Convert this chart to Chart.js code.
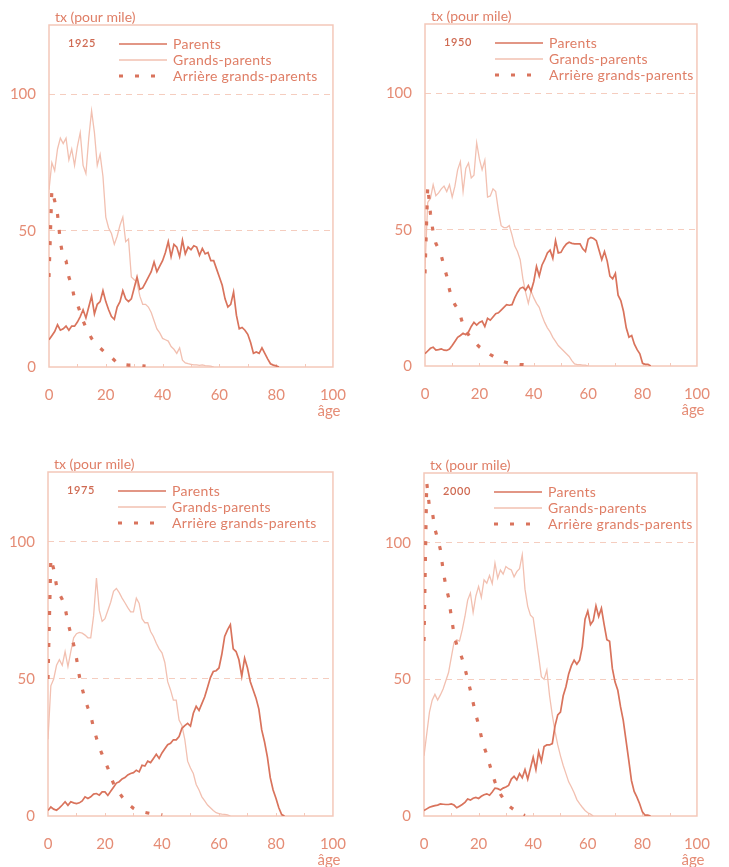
<!DOCTYPE html>
<html lang="fr">
<head>
<meta charset="utf-8">
<title>Taux par âge</title>
<script src="https://cdn.jsdelivr.net/npm/chart.js@4.4.1/dist/chart.umd.min.js"></script>
<style>
html, body { margin: 0; padding: 0; background: #ffffff; }
#wrap { position: relative; width: 729px; height: 867px; overflow: hidden; }
canvas { position: absolute; }
</style>
</head>
<body>
<div id="wrap">
  <canvas id="c1925" width="365" height="432" style="left:0px;top:0px"></canvas>
  <canvas id="c1950" width="364" height="432" style="left:365px;top:0px"></canvas>
  <canvas id="c1975" width="365" height="435" style="left:0px;top:432px"></canvas>
  <canvas id="c2000" width="364" height="435" style="left:365px;top:432px"></canvas>
</div>
<script>
// Rates per thousand, one value per completed year of age (index = age).
const seriesNames = ['Parents', 'Grands-parents', 'Arrière grands-parents'];
const years = ['1925', '1950', '1975', '2000'];
const yTitle = 'tx (pour mile)';
const xTitle = 'âge';

const parents1925 = [10, 11.5, 13, 15.5, 13.5, 14, 15, 13.5, 15, 15, 16.5, 18.5, 21, 18, 22, 26, 19.5, 23, 24, 28,
  24, 21, 18.5, 17.5, 22, 24, 28, 25, 24, 25, 29, 33, 28.5, 29, 31, 33, 35, 38.5, 35, 37,
  39, 42, 46, 40.5, 45, 44, 40.5, 46.5, 41.5, 44, 43, 44.5, 44, 41, 43.5, 41.5, 42, 39, 39, 36,
  33, 30, 25, 22, 23, 27.5, 19, 14, 14.5, 13.5, 12, 9, 5, 5.5, 5, 7, 5, 3, 1.2, 0.7, 0.4, 0];
const grand1925 = [65, 75, 72, 80, 84, 82, 84, 76, 80, 74, 81, 86, 74, 71, 84, 94, 86, 74, 78, 70,
  55, 51, 49, 45, 48, 52, 55, 46, 47, 33, 32, 31, 26, 23, 23, 22, 20, 17, 14, 12.5,
  10.5, 10, 9.5, 7.5, 6.5, 5, 7, 2.5, 1.5, 1.2, 1, 0.8, 0.8, 0.6, 0.8, 0.5, 0.4, 0.3, 0];
const great1925 = [33, 65, 61, 56, 46, 40, 39, 33, 30, 25, 23, 20, 17, 14.5, 12.5, 10.5, 9, 8, 7, 6,
  5, 4, 3.5, 2.5, 1.5, 1, 0.8, 0.8, 0.7, 0.7, 0.6, 0.5, 0.5, 0.4, 0.3];

const parents1950 = [4.5, 5.5, 6.5, 6.9, 5.8, 6, 6.3, 5.8, 5.7, 6.2, 7.5, 9, 10.5, 11.2, 12, 11.5, 12.5, 14.5, 16, 15,
  16, 16.5, 14.5, 17.5, 16.8, 18, 19.2, 19.5, 20.5, 21.5, 22.5, 22.3, 22.5, 25, 27, 28.5, 28.9, 27.8, 29.5, 27.5,
  31, 36.5, 33, 37, 39, 41.5, 42.5, 39.5, 46, 41.5, 41.7, 43.5, 44.8, 45.4, 45, 44.8, 44.8, 44.8, 43, 42,
  46.5, 47.2, 46.8, 46, 42.5, 39, 42, 38.5, 33, 32, 34, 26, 24, 20, 14, 10.6, 11.2, 8, 6, 4.5, 1, 0.6, 0.6, 0];
const grand1950 = [36, 60, 61.5, 66.5, 62.5, 63.5, 65, 66, 64, 66.5, 62, 66, 72, 75, 64, 72.5, 74.5, 69, 70, 81.9,
  76, 72, 75.5, 62, 62.4, 65, 64, 57, 51.5, 50.8, 50.8, 51.5, 48, 44, 42, 39, 32, 27, 23, 27.5,
  25, 23, 21.5, 18.5, 16, 14, 12.5, 10.5, 9, 7.5, 6.5, 5.5, 4.5, 3.5, 2, 0.8, 0.5, 0.5, 0.3, 0.3, 0];
const great1950 = [34, 66, 56, 49, 45, 43, 40.5, 36.5, 33, 28, 24.5, 22.5, 21, 18.5, 15, 13, 11.5, 10, 9, 8,
  7, 6.3, 5.8, 5, 4.2, 3.6, 3, 2.5, 2, 1.6, 1.3, 1, 0.8, 0.7, 0.6, 0.5, 0.5, 0.4, 0.4, 0.3, 0.3];

const parents1975 = [2, 3.3, 2.5, 2.1, 3, 4, 5.2, 3.9, 5.2, 4.8, 4.5, 4.8, 5.5, 7, 6.4, 7, 8, 8.2, 7.6, 8.8,
  8.8, 7.5, 9, 10.5, 12, 12.5, 13.5, 14, 15, 15.5, 15.8, 16.7, 16.1, 18.5, 18.2, 20, 19.5, 21, 22.5, 21,
  23, 24.5, 26, 26.5, 27.8, 27.8, 29, 32, 33, 33.8, 32.8, 37.5, 40, 38.5, 41, 43.5, 47, 50.5, 52.7, 53,
  54, 59, 65.5, 67.9, 69.8, 61, 60, 57, 51, 57.6, 54, 49, 46, 43, 39, 31.4, 27, 21.5, 14, 9.5, 6.5, 3, 0.5, 0];
const grand1975 = [28, 47.5, 50, 55, 57, 55, 60, 54.5, 60, 65, 66.5, 67, 66.7, 66, 65, 65, 73, 86.8, 75, 71,
  72, 75, 78, 82, 83, 81.5, 79.5, 77.8, 76, 74.5, 74.5, 79.5, 77.5, 72, 70.5, 70.5, 67.3, 65.5, 63, 61,
  59.5, 56, 49, 46, 42.3, 42.3, 35, 33, 28, 20, 17.5, 15.5, 11.5, 9.5, 7, 5.5, 4, 3, 2, 1.2, 0.9, 0.7, 0.6, 0.4, 0];
const great1975 = [50, 94, 90, 84, 81, 79, 76, 70.5, 66.5, 62.5, 57.5, 51, 46.5, 42.5, 39.5, 36.8, 32, 28.5, 25, 22.5,
  20, 17.5, 14.5, 11.8, 10, 8.5, 7, 5.8, 4.6, 3.6, 2.8, 2.2, 1.8, 1.5, 1.3, 1.1, 0.9, 0.7, 0.6, 0.5, 0.4];

const parents2000 = [2, 2.6, 3.2, 3.5, 3.8, 4, 4.4, 4.3, 4.2, 4.2, 4.4, 4, 3, 3.6, 4.2, 5, 6.2, 5.8, 6.5, 6.8,
  6.4, 7.2, 7.8, 8.1, 7.6, 8.8, 10.2, 10, 9.5, 10.2, 10.6, 11.2, 13.5, 14.5, 13.2, 15.5, 14, 17, 13.5, 17.5,
  21.5, 17, 23.5, 20, 25.4, 26, 26, 26.5, 33, 37, 38, 44, 47.3, 52, 55, 57, 55.5, 57, 62, 72,
  75, 70, 71.5, 76.9, 73, 76, 70, 64.5, 63.9, 54, 49, 46, 40, 35, 27.8, 20.5, 13, 9, 6.9, 4.5, 1.5, 0.3, 0.3, 0];
const grand2000 = [22, 30, 38, 42.4, 44.5, 42.4, 44.3, 46.5, 49.5, 52.5, 58, 63.5, 64.5, 64, 68.1, 73, 79, 81.6, 74.5, 80.5,
  84, 80, 86.4, 85.2, 88, 85, 92.5, 87, 90, 88.5, 91.3, 90.5, 90, 87.5, 89.4, 90.5, 95.6, 83, 76.7, 73.5,
  72.5, 65.5, 58.5, 51, 50, 53.4, 44, 37, 31, 26, 22, 18.5, 15.5, 12.5, 10.6, 8.5, 6, 4.5, 3.2, 2, 1.2, 0.7, 0];
const great2000 = [64, 122, 113, 111.6, 105, 101.5, 97.5, 90, 84, 80, 73, 66.5, 62.5, 60.5, 57.5, 54, 50, 46, 41.5, 37,
  33.5, 29, 25.3, 22.5, 19, 15.5, 12.5, 10, 8, 6.5, 5, 3.8, 3, 2.3, 1.8, 1.1, 0.6, 0.2];

const ageMax = 100;
const rateMax = 125.5;

// palette
const C_PARENTS = '#d9735c';
const C_GRAND = '#f2c0b1';
const C_GREAT = '#d9735c';
const C_BOX = '#f4c8b9';
const C_GRID = '#f5cdbf';
const C_TICK = '#e58c75';
const C_TEXT = '#df7e66';
const C_YEAR = '#cf6a52';
const FONT = 'Lato, "Open Sans", sans-serif';

const toPoints = arr => arr.map((v, age) => ({ x: age, y: v }));

const decor = {
  id: 'decor',
  beforeDatasetsDraw(chart) {
    const { ctx, chartArea: a } = chart;
    const xs = chart.scales.x;
    ctx.save();
    ctx.strokeStyle = C_BOX;
    ctx.lineWidth = 1.5;
    ctx.strokeRect(a.left, a.top, a.right - a.left, a.bottom - a.top);
    // short inward marks on the age axis
    ctx.lineWidth = 1;
    xs.ticks.forEach(t => {
      if (t.value <= 0 || t.value >= ageMax) return;
      const px = Math.round(xs.getPixelForValue(t.value)) + 0.5;
      ctx.beginPath();
      ctx.moveTo(px, a.bottom);
      ctx.lineTo(px, a.bottom - 3);
      ctx.stroke();
    });
    ctx.restore();
  },
  afterDraw(chart, args, opts) {
    const { ctx, chartArea: a } = chart;
    const xs = chart.scales.x;
    ctx.save();
    ctx.textBaseline = 'middle';
    // axis titles
    ctx.fillStyle = C_TEXT;
    ctx.font = '14px ' + FONT;
    ctx.textAlign = 'left';
    ctx.fillText(yTitle, a.left + 6, a.top - 8);
    ctx.fillStyle = C_TICK;
    ctx.font = '15px ' + FONT;
    ctx.textAlign = 'center';
    ctx.fillText(xTitle, xs.getPixelForValue(ageMax) - 4, a.bottom + 44);
    // year
    ctx.fillStyle = C_YEAR;
    ctx.font = '600 11px ' + FONT;
    ctx.textAlign = 'left';
    ctx.letterSpacing = '0.6px';
    ctx.fillText(opts.year, a.left + 19, a.top + 18);
    // legend
    ctx.letterSpacing = '0.3px';
    chart.data.datasets.forEach((ds, i) => {
      const y = a.top + 19 + 16 * i;
      ctx.beginPath();
      ctx.strokeStyle = ds.borderColor;
      ctx.lineWidth = ds.borderWidth;
      ctx.setLineDash(ds.borderDash || []);
      ctx.moveTo(a.left + 70, y);
      ctx.lineTo(a.left + 118, y);
      ctx.stroke();
      ctx.setLineDash([]);
      ctx.fillStyle = C_TEXT;
      ctx.font = '14px ' + FONT;
      ctx.fillText(ds.label, a.left + 124, y);
    });
    ctx.restore();
  }
};

function makePanel(id, year, parents, grand, great, box) {
  const canvas = document.getElementById(id);
  return new Chart(canvas, {
    type: 'line',
    data: {
      datasets: [
        { label: seriesNames[0], data: toPoints(parents), borderColor: C_PARENTS, borderWidth: 1.7, order: 1 },
        { label: seriesNames[1], data: toPoints(grand), borderColor: C_GRAND, borderWidth: 1.3, order: 3 },
        { label: seriesNames[2], data: toPoints(great), borderColor: C_GREAT, borderWidth: 3.2, borderDash: [4, 12], order: 2 }
      ]
    },
    options: {
      responsive: false,
      animation: false,
      devicePixelRatio: 1,
      parsing: false,
      elements: { point: { radius: 0 }, line: { tension: 0, borderCapStyle: 'butt' } },
      layout: { padding: { left: 0, right: box.right, top: box.top, bottom: 0 } },
      plugins: { legend: { display: false }, tooltip: { enabled: false }, decor: { year } },
      scales: {
        x: {
          type: 'linear', min: 0, max: ageMax,
          afterFit: s => { s.height = box.xh; },
          grid: { display: false, drawTicks: false },
          border: { display: false },
          ticks: {
            stepSize: 10, padding: 19, maxRotation: 0, autoSkip: false,
            color: C_TICK, font: { family: FONT, size: 15 },
            callback: v => (v % 20 === 0 ? String(v) : '')
          }
        },
        y: {
          type: 'linear', min: 0, max: rateMax,
          afterFit: s => { s.width = box.yw; },
          grid: {
            drawTicks: false, lineWidth: 1,
            color: c => (c.tick && (c.tick.value === 50 || c.tick.value === 100)) ? C_GRID : 'rgba(0,0,0,0)'
          },
          border: { display: false, dash: [6, 5] },
          ticks: {
            stepSize: 50, includeBounds: false, padding: 13,
            color: C_TICK, font: { family: FONT, size: 15 },
            callback: v => String(v)
          }
        }
      }
    },
    plugins: [decor]
  });
}

makePanel('c1925', years[0], parents1925, grand1925, great1925, { right: 23, top: 25, xh: 65, yw: 49 });
makePanel('c1950', years[1], parents1950, grand1950, great1950, { right: 13, top: 24, xh: 66, yw: 60 });
makePanel('c1975', years[2], parents1975, grand1975, great1975, { right: 23, top: 40, xh: 51, yw: 48 });
makePanel('c2000', years[3], parents2000, grand2000, great2000, { right: 13, top: 41, xh: 51, yw: 59 });
</script>
</body>
</html>
